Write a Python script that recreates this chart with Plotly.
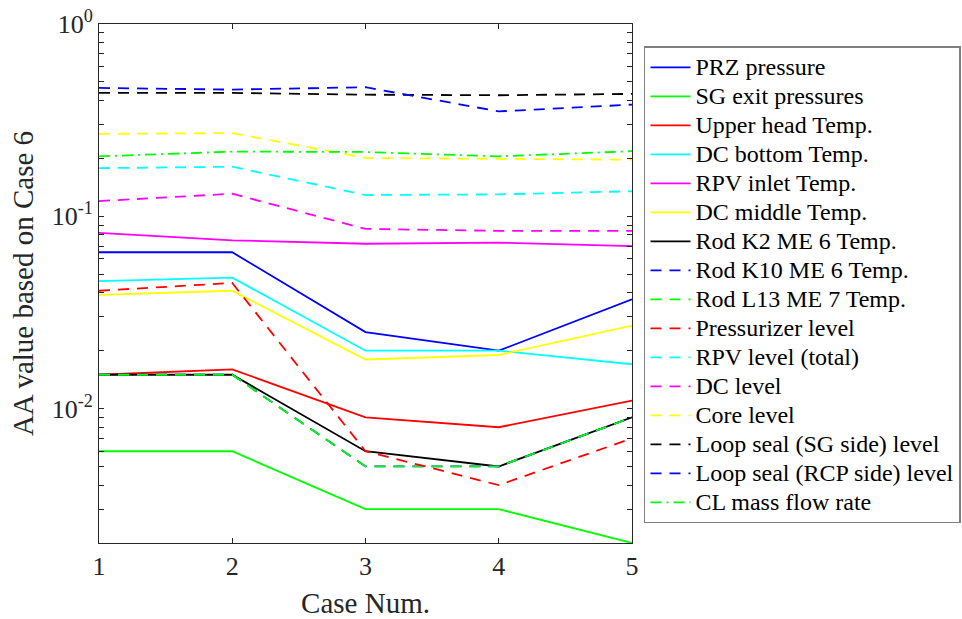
import plotly.graph_objects as go

cases = [1, 2, 3, 4, 5]

names = [
    "PRZ pressure", "SG exit pressures", "Upper head Temp.", "DC bottom Temp.",
    "RPV inlet Temp.", "DC middle Temp.", "Rod K2 ME 6 Temp.", "Rod K10 ME 6 Temp.",
    "Rod L13 ME 7 Temp.", "Pressurizer level", "RPV level (total)", "DC level",
    "Core level", "Loop seal (SG side) level", "Loop seal (RCP side) level",
    "CL mass flow rate",
]

prz_pressure = [0.065, 0.065, 0.025, 0.020, 0.037]
sg_exit_pressures = [0.006, 0.006, 0.003, 0.003, 0.002]
upper_head_temp = [0.015, 0.016, 0.009, 0.008, 0.011]
dc_bottom_temp = [0.046, 0.048, 0.020, 0.020, 0.017]
rpv_inlet_temp = [0.082, 0.075, 0.072, 0.073, 0.070]
dc_middle_temp = [0.039, 0.041, 0.018, 0.019, 0.027]
rod_k2_temp = [0.015, 0.015, 0.006, 0.005, 0.009]
rod_k10_temp = [0.015, 0.015, 0.005, 0.005, 0.009]
rod_l13_temp = [0.015, 0.015, 0.005, 0.005, 0.009]
pressurizer_level = [0.041, 0.045, 0.006, 0.004, 0.007]
rpv_level_total = [0.178, 0.181, 0.129, 0.130, 0.135]
dc_level = [0.120, 0.131, 0.086, 0.084, 0.084]
core_level = [0.268, 0.271, 0.201, 0.199, 0.197]
loop_seal_sg = [0.438, 0.438, 0.429, 0.426, 0.433]
loop_seal_rcp = [0.465, 0.456, 0.469, 0.351, 0.381]
cl_mass_flow = [0.205, 0.217, 0.216, 0.205, 0.218]

series = [
    prz_pressure, sg_exit_pressures, upper_head_temp, dc_bottom_temp,
    rpv_inlet_temp, dc_middle_temp, rod_k2_temp, rod_k10_temp,
    rod_l13_temp, pressurizer_level, rpv_level_total, dc_level,
    core_level, loop_seal_sg, loop_seal_rcp, cl_mass_flow,
]

colors = [
    "#0000ff", "#00ff00", "#ff0000", "#00ffff", "#ff00ff", "#ffff00", "#000000", "#0000ff",
    "#00ff00", "#ff0000", "#00ffff", "#ff00ff", "#ffff00", "#000000", "#0000ff", "#00ff00",
]
DASH = "11px,8px"
DASHDOT = "11px,5px,2px,5px"
dashes = ["solid"] * 7 + [DASH] * 8 + [DASHDOT]

y_tick_vals = [0.002, 0.003, 0.004, 0.005, 0.006, 0.007, 0.008, 0.009,
               0.01, 0.02, 0.03, 0.04, 0.05, 0.06, 0.07, 0.08, 0.09,
               0.1, 0.2, 0.3, 0.4, 0.5, 0.6, 0.7, 0.8, 0.9, 1.0]
decade_labels = {0.01: "10<sup>-2</sup>", 0.1: "10<sup>-1</sup>", 1.0: "10<sup>0</sup>"}
y_tick_text = [decade_labels.get(v, "") for v in y_tick_vals]

FONT = "Liberation Serif"
AXC = "#262626"

fig = go.Figure()
for name, ys, c, d in zip(names, series, colors, dashes):
    fig.add_trace(go.Scatter(
        x=cases, y=ys, mode="lines",
        name=f'<span style="font-size:24px">{name}</span>',
        line=dict(color=c, width=1.8, dash=d),
    ))

fig.update_layout(
    width=962, height=619,
    margin=dict(l=99, r=330, t=24, b=76, autoexpand=False),
    paper_bgcolor="white", plot_bgcolor="white",
    font=dict(family=FONT, color=AXC, size=26),
    showlegend=True,
    legend=dict(
        x=1.0225, y=0.957, xanchor="left", yanchor="top",
        font=dict(family=FONT, size=20, color="#000000"),
        bordercolor="#808080", borderwidth=1.5, bgcolor="white",
        itemwidth=40, tracegroupgap=0,
    ),
    xaxis=dict(
        range=[1, 5], tickvals=cases, ticktext=[str(c) for c in cases],
        ticks="inside", ticklen=5, tickcolor=AXC, showgrid=False, zeroline=False,
        showline=True, linecolor=AXC, linewidth=1, mirror="ticks",
        tickfont=dict(family=FONT, size=26, color=AXC),
        title=dict(text="Case Num.", font=dict(family=FONT, size=29, color=AXC), standoff=12),
    ),
    yaxis=dict(
        type="log", range=[-2.699, 0],
        tickvals=y_tick_vals, ticktext=y_tick_text,
        ticks="inside", ticklen=5, tickcolor=AXC, showgrid=False, zeroline=False,
        showline=True, linecolor=AXC, linewidth=1, mirror="ticks",
        tickfont=dict(family=FONT, size=26, color=AXC),
        title=dict(text="AA value based on Case 6", font=dict(family=FONT, size=29, color=AXC), standoff=9),
    ),
)

fig.write_html("out.html")
